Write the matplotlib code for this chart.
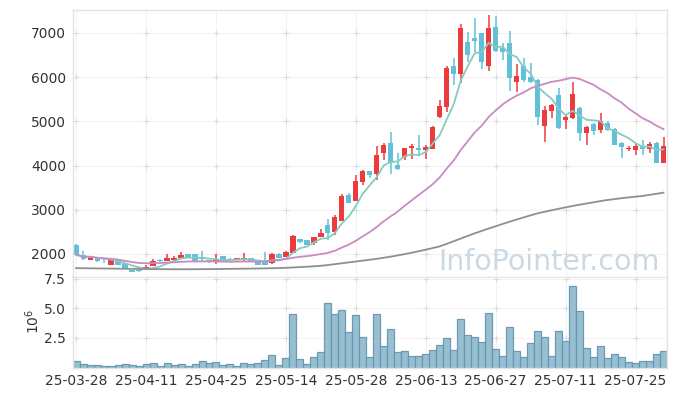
import matplotlib
matplotlib.use("Agg")
import matplotlib.pyplot as plt
import numpy as np
import pandas as pd

dates = ["25-03-28","25-03-31","25-04-01","25-04-02","25-04-03","25-04-04","25-04-07","25-04-08","25-04-09","25-04-10",
         "25-04-11","25-04-14","25-04-15","25-04-16","25-04-17","25-04-18","25-04-21","25-04-22","25-04-23","25-04-24",
         "25-04-25","25-04-28","25-04-29","25-04-30","25-05-02","25-05-07","25-05-08","25-05-09","25-05-12","25-05-13",
         "25-05-14","25-05-15","25-05-16","25-05-19","25-05-20","25-05-21","25-05-22","25-05-23","25-05-26","25-05-27",
         "25-05-28","25-05-29","25-05-30","25-06-02","25-06-04","25-06-05","25-06-09","25-06-10","25-06-11","25-06-12",
         "25-06-13","25-06-16","25-06-17","25-06-18","25-06-19","25-06-20","25-06-23","25-06-24","25-06-25","25-06-26",
         "25-06-27","25-06-30","25-07-01","25-07-02","25-07-03","25-07-04","25-07-07","25-07-08","25-07-09","25-07-10",
         "25-07-11","25-07-14","25-07-15","25-07-16","25-07-17","25-07-18","25-07-21","25-07-22","25-07-23","25-07-24",
         "25-07-25","25-07-28","25-07-29","25-07-30","25-07-31"]

open_ = [2210,1985,1865,1930,1850,1760,1835,1795,1640,1630,
         1660,1735,1860,1842,1864,1910,1993,2000,1925,1870,
         1835,1947,1880,1864,1880,1910,1857,1850,1790,2007,
         1940,2030,2340,2316,2240,2392,2656,2505,2755,3335,
         3205,3636,3878,3800,4292,4505,4014,4200,4405,4398,
         4353,4385,5106,5333,6253,6072,6790,6887,6992,6253,
         7134,6660,6770,5890,6253,6000,5937,4896,5242,5597,
         5032,5085,5295,4742,4946,4805,4962,4835,4520,4375,
         4353,4450,4368,4505,4068]
high = [2215,2075,1940,1935,1887,1862,1850,1800,1645,1670,
        1740,1880,1880,2000,1950,2050,2000,2005,2060,1875,
        2000,1950,1910,1915,2020,1915,1862,2045,2012,2012,
        2060,2420,2345,2320,2380,2572,2785,2880,3360,3380,
        3787,3890,3882,4443,4510,4767,4276,4395,4480,4692,
        4470,4890,5484,6250,6425,7194,7032,7335,7000,7407,
        7385,6780,7045,6300,6425,6330,5960,5348,5400,5750,
        5150,5882,5320,4900,4955,5183,5020,4840,4545,4440,
        4480,4580,4525,4545,4655]
low = [1980,1870,1860,1820,1790,1755,1750,1650,1585,1600,
       1655,1730,1790,1835,1855,1900,1925,1845,1840,1800,
       1780,1845,1850,1858,1830,1830,1752,1752,1785,1905,
       1935,2025,2250,2200,2205,2385,2316,2430,2750,3155,
       3200,3560,3712,3674,4127,3810,3900,4127,4150,4240,
       4142,4380,5070,5206,5824,5862,6350,6577,6186,6140,
       6560,6400,5688,5674,5900,5870,4920,4541,5070,4830,
       4820,5050,4564,4466,4700,4736,4790,4460,4164,4340,
       4240,4240,4290,4060,4060]
close = [1985,1895,1930,1850,1835,1857,1760,1655,1590,1620,
         1705,1835,1840,1916,1916,1985,1932,1850,1880,1835,
         1893,1850,1865,1910,1900,1835,1758,1758,2005,1910,
         2045,2407,2280,2204,2376,2466,2482,2826,3312,3160,
         3650,3878,3787,4240,4466,4052,3923,4390,4443,4360,
         4428,4880,5348,6215,6072,7104,6502,6826,6350,7104,
         6600,6577,5980,6018,5937,5882,5106,5258,5371,4844,
         5106,5620,4742,4871,4780,5020,4796,4466,4428,4405,
         4450,4375,4490,4068,4443]
ma_long = [1680,1678,1676,1674,1672,1670,1668,1666,1664,1662,
           1660,1658,1657,1656,1655,1655,1655,1656,1657,1658,
           1660,1662,1664,1666,1668,1670,1672,1675,1678,1682,
           1688,1695,1703,1712,1722,1734,1750,1770,1790,1810,
           1830,1850,1870,1892,1915,1940,1968,1998,2030,2063,
           2098,2135,2172,2230,2290,2350,2410,2468,2522,2576,
           2628,2680,2731,2780,2828,2875,2920,2955,2990,3022,
           3055,3086,3115,3142,3170,3197,3222,3242,3262,3280,
           3297,3313,3338,3362,3387]
volume = [0.55,0.30,0.25,0.25,0.13,0.13,0.25,0.30,0.25,0.13,
          0.30,0.38,0.13,0.38,0.25,0.30,0.13,0.30,0.55,0.38,
          0.46,0.25,0.30,0.13,0.38,0.30,0.38,0.63,1.03,0.25,
          0.80,4.53,0.72,0.30,0.89,1.31,5.47,4.53,4.84,3.00,
          4.45,2.58,0.89,4.53,1.82,3.26,1.31,1.40,0.97,0.97,
          1.14,1.48,1.90,2.50,1.48,4.11,2.75,2.58,2.16,4.62,
          1.57,0.97,3.43,1.40,0.89,2.08,3.09,2.58,0.97,3.09,
          2.25,6.91,4.79,1.65,0.89,1.82,0.80,1.14,0.89,0.46,
          0.38,0.55,0.55,1.14,1.40]  # in millions

price_ticks = [2000, 3000, 4000, 5000, 6000, 7000]
vol_ticks = [2.5, 5.0, 7.5]
tick_idx = list(range(0, 85, 10))

RED = "#ec3b3d"
BLUE = "#62c1d9"
TEAL = "#86cbbf"
PINK = "#c98bc2"
GRAY = "#8f8f8f"
SPINE = "#e3e3e3"
TXT = "#333333"

df = pd.DataFrame({"o": open_, "h": high, "l": low, "c": close})
ma5 = df["c"].rolling(5, min_periods=1).mean()
ma20 = df["c"].rolling(20, min_periods=1).mean()
x = np.arange(len(df))

fig = plt.figure(figsize=(6.77, 3.96), dpi=100)
L, R = 73/677, 667/677
ax = fig.add_axes([L, 1-278/396, R-L, (278-10)/396])
axv = fig.add_axes([L, 1-367.5/396, R-L, (367.5-278)/396], sharex=ax)

up = df["c"] >= df["o"]
cols = np.where(up, RED, BLUE)
ax.vlines(x, df["l"], df["h"], colors=cols, linewidth=1.1, zorder=2)
body_bottom = np.minimum(df["o"], df["c"])
body_h = np.maximum(np.abs(df["c"] - df["o"]), 12)
ax.bar(x, body_h, bottom=body_bottom, width=0.75, color=cols, linewidth=0, zorder=2)

ax.plot(x, ma5, color=TEAL, lw=1.3, zorder=3)
ax.plot(x, ma20, color=PINK, lw=1.3, zorder=3)
ax.plot(x, ma_long, color=GRAY, lw=1.3, zorder=3)

ax.set_ylim(1457, 7520)
ax.set_xlim(-0.45, 84.5)
ax.set_yticks(price_ticks)
ax.set_yticklabels([str(v) for v in price_ticks])

axv.bar(x, volume, width=1.0, facecolor="#93bccf", edgecolor="#6796b0", linewidth=0.9, alpha=0.95, zorder=2)
axv.set_ylim(0, 7.55)
axv.set_yticks(vol_ticks)
axv.set_yticklabels(["2.5", "5.0", "7.5"])
axv.set_xticks(tick_idx)
axv.set_xticklabels([dates[i] for i in tick_idx])
plt.setp(ax.get_xticklabels(), visible=False)

for a, yt in ((ax, price_ticks), (axv, vol_ticks)):
    a.set_facecolor("white")
    for s in a.spines.values():
        s.set_color(SPINE)
        s.set_linewidth(1.0)
    a.tick_params(length=0, labelsize=10, colors=TXT, pad=5)
    a.grid(True, color="#f3f3f3", lw=0.8, zorder=0)
    a.set_axisbelow(True)
    gx, gy = np.meshgrid(tick_idx, yt)
    a.plot(gx.ravel(), gy.ravel(), ls="none", marker="+", ms=5, mew=0.8, color="#dcdcdc", zorder=1)
ax.spines["bottom"].set_linewidth(1.6)
axv.spines["top"].set_visible(False)
ax.set_xlim(-0.45, 84.5)

ax.text(0.988, 0.03, "InfoPointer.com", transform=ax.transAxes, ha="right", va="baseline",
        fontsize=20.5, color="#c9dae4", zorder=1.5)

fig.text(33/677, 1-321/396, r"$10^6$", rotation=90, ha="center", va="center", fontsize=10, color=TXT)

fig.savefig("out.png", dpi=100)
